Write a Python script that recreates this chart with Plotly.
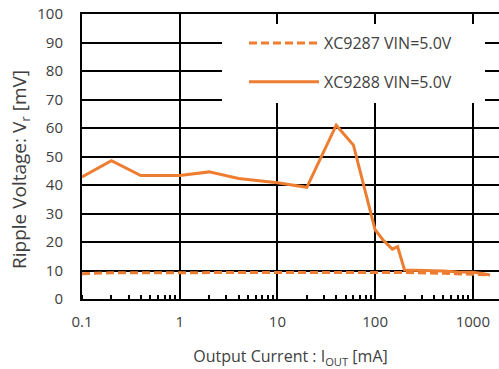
import plotly.graph_objects as go

# XC9288 VIN=5.0V (solid)
x288 = [0.1, 0.2, 0.4, 1, 2, 4, 10, 20, 40, 60, 100, 120, 150, 170, 200, 300, 500, 700, 1000, 1200, 1500]
y288 = [42.8, 48.5, 43.3, 43.3, 44.6, 42.3, 40.8, 39.2, 61.0, 54.0, 24.3, 20.8, 17.5, 18.4, 10.2, 10.1, 9.8, 9.5, 9.4, 9.0, 8.4]

# XC9287 VIN=5.0V (dashed)
x287 = [0.1, 0.2, 0.5, 1, 2, 5, 10, 20, 50, 100, 200, 500, 1000, 1500]
y287 = [8.9, 9.2, 9.2, 9.3, 9.3, 9.3, 9.3, 9.3, 9.3, 9.3, 9.3, 9.0, 8.8, 8.5]

names = ["XC9287 VIN=5.0V", "XC9288 VIN=5.0V"]
y_ticks = list(range(0, 101, 10))
x_ticks = [0.1, 1, 10, 100, 1000]
x_ticktext = ["0.1", "1", "10", "100", "1000"]

ORANGE = "#ED7D31"
TXT = "#404040"
FONT = "Open Sans"

# plot area in page pixels: x 82..499, y 14..299
PL, PR, PT, PB = 82, 499, 14, 299
PW, PH = PR - PL, PB - PT

def px(x):
    return (x - PL) / PW

def py(y):
    return (PB - y) / PH

fig = go.Figure()
fig.add_trace(go.Scatter(x=x287, y=y287, mode="lines", name=names[0], legendgroup="a",
                         line=dict(color=ORANGE, width=3, dash="8px,4px")))
fig.add_trace(go.Scatter(x=x288, y=y288, mode="lines", name=names[1], legendgroup="b",
                         line=dict(color=ORANGE, width=3)))

# white legend panel covering gridlines
fig.add_shape(type="rect", xref="paper", yref="paper",
              x0=px(222), x1=px(485), y0=py(103), y1=py(24),
              fillcolor="white", line=dict(width=0), layer="above")

fig.add_annotation(text="Ripple Voltage: V<sub>r</sub> [mV]", textangle=-90,
                   xref="paper", yref="paper", x=px(20), y=py(170),
                   xanchor="center", yanchor="middle", showarrow=False,
                   font=dict(family=FONT, size=19, color=TXT))

fig.update_layout(
    width=499, height=369,
    margin=dict(l=PL, r=0, t=PT, b=369 - PB),
    paper_bgcolor="white", plot_bgcolor="white",
    font=dict(family=FONT, size=15, color=TXT),
    showlegend=True,
    legend=dict(x=px(244), y=py(26), xanchor="left", yanchor="top",
                bgcolor="rgba(0,0,0,0)", borderwidth=0, itemwidth=70,
                tracegroupgap=15, traceorder="grouped",
                font=dict(family=FONT, size=16, color=TXT)),
    xaxis=dict(type="log", range=[-1, 3.268], tickvals=x_ticks, ticktext=x_ticktext,
               automargin=False,
               showgrid=True, gridcolor="black", gridwidth=2,
               showline=True, linecolor="black", linewidth=2, mirror=True,
               ticks="", ticklabelstandoff=8, zeroline=False,
               minor=dict(ticks="inside", ticklen=4, tickwidth=1.5, tickcolor="black",
                          dtick="D1", showgrid=False),
               title=dict(text="Output Current : I<sub>OUT</sub> [mA]", standoff=21,
                          font=dict(family=FONT, size=16, color=TXT))),
    yaxis=dict(range=[0, 100], tickvals=y_ticks, automargin=False,
               showgrid=True, gridcolor="black", gridwidth=2,
               showline=True, linecolor="black", linewidth=2, mirror=False,
               ticks="", ticklabelstandoff=14, zeroline=False),
)

fig.write_html("out.html", config={"displayModeBar": False},
               post_script="document.body.style.margin='0';document.body.style.overflow='hidden';")
